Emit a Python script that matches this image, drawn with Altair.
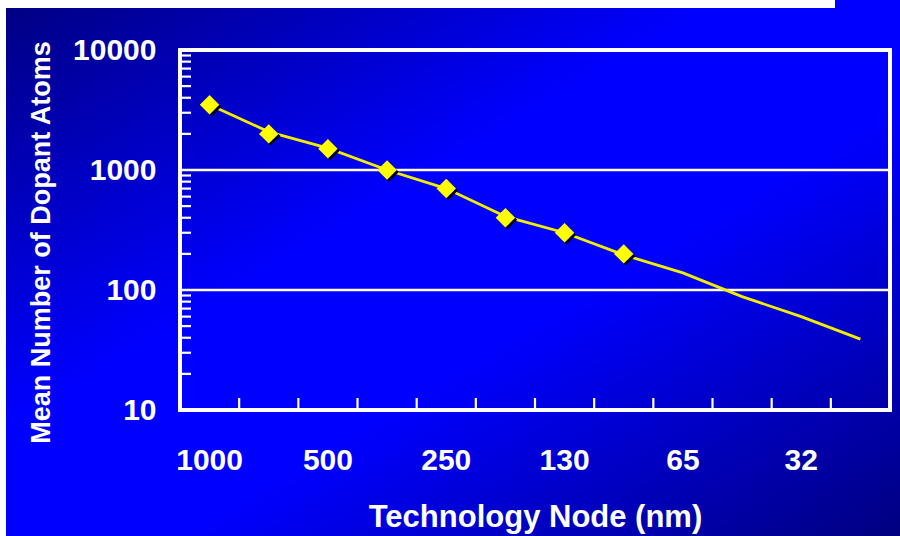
import altair as alt
import pandas as pd

# ---- data ----
nodes = ["1000", "700", "500", "350", "250", "180", "130", "90", "65", "45", "32", "22"]
label_nodes = ["1000", "500", "250", "130", "65", "32"]
measured_nodes = ["1000", "700", "500", "350", "250", "180", "130", "90"]
mean_dopants = [3500, 2000, 1500, 1000, 700, 400, 300, 200]
trend_values = [3500, 2080, 1520, 1000, 700, 410, 300, 196, 139, 88, 60, 39]
major_y = [10, 100, 1000, 10000]
grid_y = [100, 1000, 10000]
minor_y = [20, 30, 40, 50, 60, 70, 80, 90,
           200, 300, 400, 500, 600, 700, 800, 900,
           2000, 3000, 4000, 5000, 6000, 7000, 8000, 9000]

FONT = "Liberation Sans"
W, H = 710, 360

pts = pd.DataFrame({"node": measured_nodes, "dopants": mean_dopants})
trend = pd.DataFrame({"node": nodes, "dopants": trend_values})
ticks_x = pd.DataFrame({"node": nodes})
grid = pd.DataFrame({"v": grid_y})
minor = pd.DataFrame({"v": minor_y})

xscale = alt.Scale(type="band", domain=nodes, paddingInner=0, paddingOuter=0)
yscale = alt.Scale(type="log", domain=[10, 10000])

x_axis = alt.Axis(
    values=label_nodes, title="Technology Node (nm)", domain=False, ticks=False,
    grid=False, labelFont=FONT, labelFontWeight="bold", labelFontSize=30,
    labelColor="white", labelPadding=35, labelAngle=0,
    titleFont=FONT, titleFontWeight="bold", titleFontSize=31, titleColor="white",
    titleY=107, titleBaseline="middle", zindex=1,
)
y_axis = alt.Axis(
    values=major_y, format="d", title="Mean Number of Dopant Atoms",
    domain=False, ticks=False, grid=False,
    labelFont=FONT, labelFontWeight="bold", labelFontSize=30,
    labelColor="white", labelPadding=24,
    titleFont=FONT, titleFontWeight="bold", titleFontSize=27, titleColor="white",
    titleX=-139, titleY=192, titleAngle=270, titleBaseline="middle", titleAlign="center",
    zindex=1,
)

gradient = alt.LinearGradient(
    gradient="linear",
    stops=[
        alt.GradientStop(color="#000080", offset=0),
        alt.GradientStop(color="#0000FF", offset=0.4),
        alt.GradientStop(color="#0000FF", offset=0.6),
        alt.GradientStop(color="#000080", offset=1),
    ],
    x1=0, y1=0, x2=1, y2=1,
)

bg = alt.Chart(pts).mark_rect(color=gradient).encode(
    x=alt.value(-180), x2=alt.value(720), y=alt.value(-50), y2=alt.value(486)
)
white_left = alt.Chart(pts).mark_rect(color="white").encode(
    x=alt.value(-180), x2=alt.value(-174), y=alt.value(-50), y2=alt.value(486)
)
white_top = alt.Chart(pts).mark_rect(color="white").encode(
    x=alt.value(-180), x2=alt.value(655), y=alt.value(-50), y2=alt.value(-42)
)

gridlines = alt.Chart(grid).mark_rule(color="white", strokeWidth=2.5).encode(
    y=alt.Y("v:Q", scale=yscale, axis=y_axis),
    x=alt.value(0), x2=alt.value(W),
)
minor_ticks = alt.Chart(minor).mark_rule(color="white", strokeWidth=2.2).encode(
    y=alt.Y("v:Q", scale=yscale),
    x=alt.value(0), x2=alt.value(11),
)
xticks = alt.Chart(ticks_x).mark_rule(color="white", strokeWidth=2.2).encode(
    x=alt.X("node:N", scale=xscale, bandPosition=0, axis=x_axis, sort=nodes),
    y=alt.value(H), y2=alt.value(H - 12),
)
frame = alt.Chart(pts).mark_rect(filled=False, stroke="white", strokeWidth=3).encode(
    x=alt.value(0), x2=alt.value(W), y=alt.value(0), y2=alt.value(H)
)

line = alt.Chart(trend).mark_line(color="#F2EE00", strokeWidth=2.8).encode(
    x=alt.X("node:N", scale=xscale, sort=nodes),
    y=alt.Y("dopants:Q", scale=yscale),
)
shadow = alt.Chart(pts).mark_point(
    shape="diamond", filled=True, color="black", size=380, opacity=1, xOffset=2, yOffset=2
).encode(
    x=alt.X("node:N", scale=xscale, sort=nodes),
    y=alt.Y("dopants:Q", scale=yscale),
)
points = alt.Chart(pts).mark_point(
    shape="diamond", filled=True, color="#FFFF00", size=380, opacity=1
).encode(
    x=alt.X("node:N", scale=xscale, sort=nodes),
    y=alt.Y("dopants:Q", scale=yscale),
)

chart = alt.layer(
    bg, white_left, white_top, gridlines, minor_ticks, xticks, frame, line, shadow, points
).properties(
    width=W, height=H,
    autosize=alt.AutoSizeParams(type="none"),
    padding={"left": 180, "top": 50, "right": 10, "bottom": 126},
    background="white",
).configure_view(stroke=None)

chart.save("out.html", embed_options={"renderer": "svg", "actions": False})
